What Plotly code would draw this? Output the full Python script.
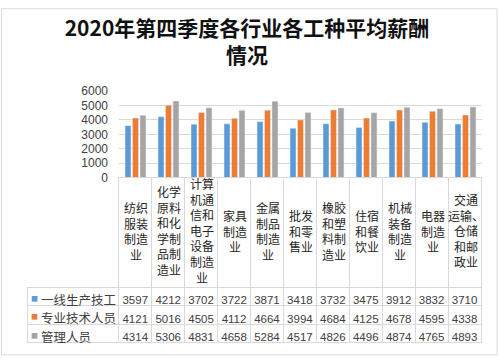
import plotly.graph_objects as go

# ---- data ----
categories = ["纺织服装制造业", "化学原料和化学制品制造业", "计算机通信和电子设备制造业",
              "家具制造业", "金属制品制造业", "批发和零售业", "橡胶和塑料制造业",
              "住宿和餐饮业", "机械装备制造业", "电器制造业", "交通运输、仓储和邮政业"]
category_labels = ["纺织<br>服装<br>制造<br>业", "化学<br>原料<br>和化<br>学制<br>品制<br>造业",
                   "计算<br>机通<br>信和<br>电子<br>设备<br>制造<br>业", "家具<br>制造<br>业",
                   "金属<br>制品<br>制造<br>业", "批发<br>和零<br>售业", "橡胶<br>和塑<br>料制<br>造业",
                   "住宿<br>和餐<br>饮业", "机械<br>装备<br>制造<br>业", "电器<br>制造<br>业",
                   "交通<br>运输、<br>仓储<br>和邮<br>政业"]
series_names = ["一线生产技工", "专业技术人员", "管理人员"]
frontline = [3597, 4212, 3702, 3722, 3871, 3418, 3732, 3475, 3912, 3832, 3710]
professional = [4121, 5016, 4505, 4112, 4664, 3994, 4684, 4125, 4678, 4595, 4338]
management = [4314, 5306, 4831, 4658, 5284, 4517, 4826, 4496, 4874, 4765, 4893]
y_ticks = [0, 1000, 2000, 3000, 4000, 5000, 6000]
title_text = "2020年第四季度各行业各工种平均薪酬<br>情况"

colors = ["#5B9BD5", "#ED7D31", "#A5A5A5"]
series_values = [frontline, professional, management]

FONT = "Noto Sans CJK SC, Noto Sans, sans-serif"
NUM_FONT = "Liberation Sans, Arial, sans-serif"
GRID = "#D9D9D9"
TEXT = "#404040"
CLEAR = "rgba(0,0,0,0)"

W, H = 500, 364
plot_left, plot_right = 119 / W, 482 / W
legend_left = 27 / W
axis_y0 = 1 - 177.5 / H
axis_y1 = 1 - 87.3 / H
header_h = 110
row_h = 18.3

fig = go.Figure()

for name, vals, col in zip(series_names, series_values, colors):
    fig.add_trace(go.Bar(x=categories, y=vals, name=name, marker_color=col,
                         showlegend=False, hoverinfo="x+y+name"))

# data table (grid + numbers)
n = len(categories)
cell_values = [[""] * 3] + [[series_values[k][i] for k in range(3)] for i in range(n)]
fig.add_trace(go.Table(
    domain=dict(x=[legend_left, plot_right], y=[0, axis_y0]),
    columnwidth=[92] + [33] * n,
    header=dict(values=[""] * (n + 1), height=header_h,
                line=dict(color=[CLEAR] + [GRID] * n, width=1),
                fill=dict(color=CLEAR)),
    cells=dict(values=cell_values, height=row_h,
               align="center",
               font=dict(family=NUM_FONT, size=11.5, color=TEXT),
               line=dict(color=GRID, width=1),
               fill=dict(color="white")),
))


def overlay(x0, x1, values, size, color):
    return go.Table(
        domain=dict(x=[x0 / W, x1 / W], y=[0, axis_y0]),
        columnwidth=[x1 - x0],
        header=dict(values=[""], height=header_h, line=dict(color=CLEAR), fill=dict(color=CLEAR)),
        cells=dict(values=[values], height=row_h, align=["left"],
                   font=dict(family=FONT, size=size, color=color),
                   line=dict(color=CLEAR), fill=dict(color=CLEAR)),
    )


# legend keys and series names in the first column
fig.add_trace(overlay(23, 40, ["■"] * 3, 7, [colors]))
fig.add_trace(overlay(33, 125, series_names, 12.5, TEXT))

annotations = []
for cat, lab in zip(categories, category_labels):
    annotations.append(dict(x=cat, xref="x", y=1 - (177.5 + header_h / 2) / H, yref="paper",
                            text=lab, showarrow=False, xanchor="center", yanchor="middle",
                            align="center", font=dict(family=FONT, size=12, color="#262626")))

fig.update_layout(
    width=W, height=H,
    margin=dict(l=0, r=0, t=0, b=0),
    paper_bgcolor="white", plot_bgcolor="white",
    title=dict(text="<b>" + title_text + "</b>", x=0.494, xanchor="center",
               y=1 - 36 / H, yanchor="top",
               font=dict(family=FONT, size=21, color="#111111")),
    barmode="group", bargap=0.32, bargroupgap=0.2,
    xaxis=dict(domain=[plot_left, plot_right], showticklabels=False, showgrid=False,
               showline=False, zeroline=False, ticks="", range=[-0.5, n - 0.5]),
    yaxis=dict(domain=[axis_y0, axis_y1], range=[0, 6000], tickvals=y_ticks,
               showgrid=True, gridcolor=GRID, gridwidth=1, zeroline=False, showline=False,
               ticks="", ticklabelstandoff=10,
               tickfont=dict(family=NUM_FONT, size=12, color=TEXT)),
    annotations=annotations,
    shapes=[dict(type="rect", xref="paper", yref="paper", x0=0.003, x1=0.994,
                 y0=0.006, y1=0.995, line=dict(color=GRID, width=1), layer="above")],
    showlegend=False,
)

fig.write_html("out.html", config={"displayModeBar": False},
               post_script="document.body.style.margin='0';")
